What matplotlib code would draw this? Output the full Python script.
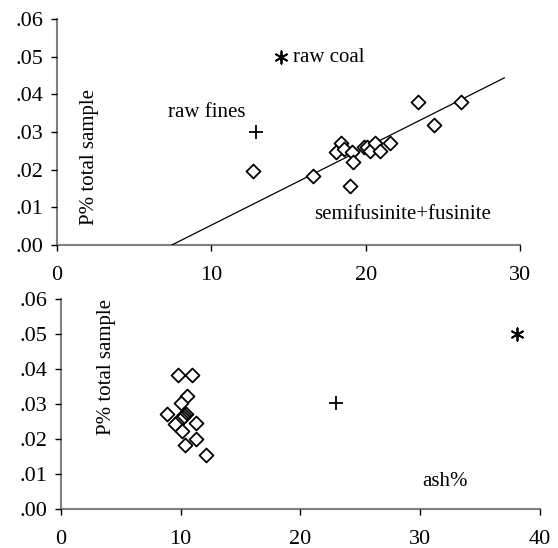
import matplotlib.pyplot as plt

plt.rcParams['font.family'] = ['Liberation Serif', 'DejaVu Serif']

# top panel: semifusinite+fusinite vs P
sf_x = [12.7, 16.6, 18.05, 18.4, 18.6, 19.1, 19.15, 19.0, 19.9, 20.1, 20.3,
        20.6, 20.9, 21.6, 23.4, 24.4, 26.2]
sf_p = [0.0196, 0.0183, 0.0246, 0.0271, 0.0256, 0.0246, 0.0221, 0.0158, 0.0259,
        0.0260, 0.0250, 0.0271, 0.0250, 0.0270, 0.0380, 0.0320, 0.0380]
fit_x = [7.45, 28.98]
fit_p = [0.0, 0.0444]
fines_top = (12.9, 0.030)
coal_top = (14.5, 0.050)

# bottom panel: ash% vs P
ash_x = [9.8, 10.96, 10.5, 10.07, 8.82, 10.43, 10.3, 10.2, 10.05, 9.93, 9.7, 9.5,
         11.3, 10.15, 11.25, 10.4, 12.08]
ash_p = [0.0383, 0.0383, 0.0323, 0.0304, 0.0273, 0.0273, 0.0268, 0.0264, 0.0259,
         0.0254, 0.0247, 0.0242, 0.0245, 0.0224, 0.0199, 0.0183, 0.0154]
fines_bot = (22.95, 0.0302)
coal_bot = (38.1, 0.050)

yticks = [0, 0.01, 0.02, 0.03, 0.04, 0.05, 0.06]
ylabels = ['.00', '.01', '.02', '.03', '.04', '.05', '.06']

fig = plt.figure(figsize=(5.58, 5.48), dpi=100)
ax1 = fig.add_axes([0.102, 0.553, 0.830, 0.412])
ax2 = fig.add_axes([0.109, 0.071, 0.859, 0.383])


def style(ax, xmax, xticks):
    ax.set_xlim(0, xmax)
    ax.set_ylim(0, 0.06)
    ax.set_xticks(xticks)
    ax.set_xticklabels([str(t) for t in xticks])
    ax.set_yticks(yticks)
    ax.set_yticklabels(ylabels)
    for s in ['top', 'right']:
        ax.spines[s].set_visible(False)
    for s in ['left', 'bottom']:
        ax.spines[s].set_color('#808080')
        ax.spines[s].set_linewidth(1.5)
        ax.spines[s].set_zorder(0)
    ax.tick_params(axis='both', direction='out', length=4, width=1,
                   color='black', labelsize=16)
    ax.tick_params(axis='x', pad=11)
    ax.tick_params(axis='y', pad=6)


style(ax1, 30, [0, 10, 20, 30])
style(ax2, 40, [0, 10, 20, 30, 40])

mk = dict(marker='D', s=50, facecolors='white', edgecolors='black',
          linewidths=1.3, zorder=3)

ax1.plot(fit_x, fit_p, color='black', lw=0.9, zorder=2)
ax1.scatter(sf_x, sf_p, **mk)
ax1.scatter(*fines_top, marker='+', s=90, color='black', linewidths=1.3, zorder=4)
ax1.scatter(*coal_top, marker=(6, 2, 0), s=80, color='black', linewidths=1.3, zorder=4)
ax1.text(15.3, 0.0499, 'raw coal', fontsize=15, va='center', ha='left')
ax1.text(9.7, 0.0353, 'raw fines', fontsize=15, va='center', ha='center')
ax1.text(22.4, 0.0080, 'semifusinite+fusinite', fontsize=15, va='center', ha='center')
ax1.text(0.071, 0.39, 'P% total sample', fontsize=15, rotation=90,
         va='center', ha='center', transform=ax1.transAxes)

ax2.scatter(ash_x, ash_p, **mk)
ax2.scatter(*fines_bot, marker='+', s=90, color='black', linewidths=1.3, zorder=4)
ax2.scatter(*coal_bot, marker=(6, 2, 0), s=80, color='black', linewidths=1.3, zorder=4)
ax2.text(32.1, 0.0080, 'ash%', fontsize=15, va='center', ha='center')
ax2.text(0.096, 0.676, 'P% total sample', fontsize=15, rotation=90,
         va='center', ha='center', transform=ax2.transAxes)

fig.savefig('out.png', dpi=100)
